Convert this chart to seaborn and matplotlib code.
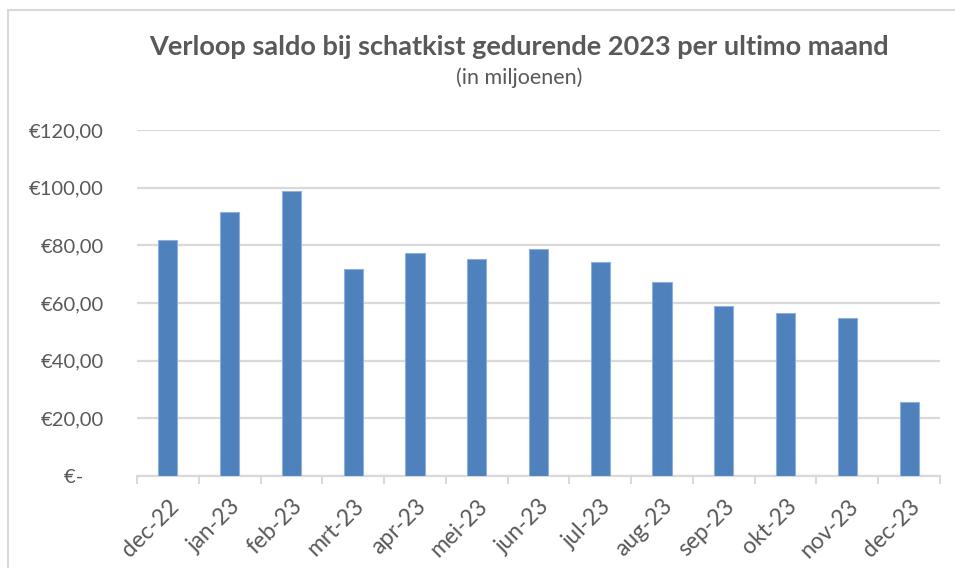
import matplotlib
matplotlib.use("Agg")
import matplotlib.pyplot as plt
import seaborn as sns
import pandas as pd
from matplotlib.lines import Line2D
from matplotlib.ticker import FixedLocator

# Month-end balances (in millions of euros)
months = ["dec-22", "jan-23", "feb-23", "mrt-23", "apr-23", "mei-23", "jun-23",
          "jul-23", "aug-23", "sep-23", "okt-23", "nov-23", "dec-23"]
saldo = [82.0, 91.7, 98.9, 71.9, 77.5, 75.3, 78.9, 74.1, 67.3, 58.9, 56.7, 54.9, 25.5]

y_ticks = [0, 20, 40, 60, 80, 100, 120]
y_labels = ["€-    ", "€20,00", "€40,00", "€60,00", "€80,00", "€100,00", "€120,00"]

title = "Verloop saldo bij schatkist gedurende 2023 per ultimo maand"
subtitle = "(in miljoenen)"

sns.set_theme(style="white")
plt.rcParams["font.family"] = ["Lato", "DejaVu Sans"]

text_color = "#595959"
grid_color = "#D9D9D9"
bar_color = "#4F81BD"

df = pd.DataFrame({"maand": months, "saldo": saldo})

fig = plt.figure(figsize=(9.55, 5.68), dpi=100)
ax = fig.add_axes([137 / 955, 1 - 476 / 568, (940 - 137) / 955, (476 - 130) / 568])

sns.barplot(data=df, x="maand", y="saldo", order=months, color=bar_color,
            saturation=1, width=0.31, edgecolor="#8DB0DC", linewidth=0.8,
            ax=ax, zorder=3)

ax.set_xlim(-0.5, len(months) - 0.5)
ax.set_ylim(0, 120)
ax.set_yticks(y_ticks)
ax.set_yticklabels(y_labels, fontsize=14.5, color=text_color)
ax.yaxis.grid(True, color=grid_color, linewidth=1.6, zorder=0)
ax.set_axisbelow(True)
ax.set_xlabel("")
ax.set_ylabel("")

for side in ["left", "right", "top"]:
    ax.spines[side].set_visible(False)
ax.spines["bottom"].set_color(grid_color)
ax.spines["bottom"].set_linewidth(1.6)

ax.tick_params(axis="y", length=0, pad=24)
ax.tick_params(axis="x", which="major", length=0, pad=14)
ax.xaxis.set_minor_locator(FixedLocator([i - 0.5 for i in range(len(months) + 1)]))
ax.tick_params(axis="x", which="minor", length=6, width=1.4, color=grid_color,
               direction="out", bottom=True)
for lbl in ax.get_xticklabels():
    lbl.set_rotation(45)
    lbl.set_ha("right")
    lbl.set_rotation_mode("anchor")
    lbl.set_fontsize(16.5)
    lbl.set_color(text_color)

fig.text(519 / 955, 1 - 47 / 568, title, ha="center", va="center",
         fontsize=19.5, fontweight="bold", color=text_color)
fig.text(519 / 955, 1 - 78 / 568, subtitle, ha="center", va="center",
         fontsize=15.5, color=text_color)

# chart frame edges
fig.add_artist(Line2D([8 / 955, 8 / 955], [0, 1 - 10 / 568], transform=fig.transFigure,
                      color=grid_color, linewidth=1.5))
fig.add_artist(Line2D([8 / 955, 1], [1 - 10 / 568, 1 - 10 / 568], transform=fig.transFigure,
                      color=grid_color, linewidth=1.5))

fig.savefig("out.png", dpi=100, facecolor="white")
